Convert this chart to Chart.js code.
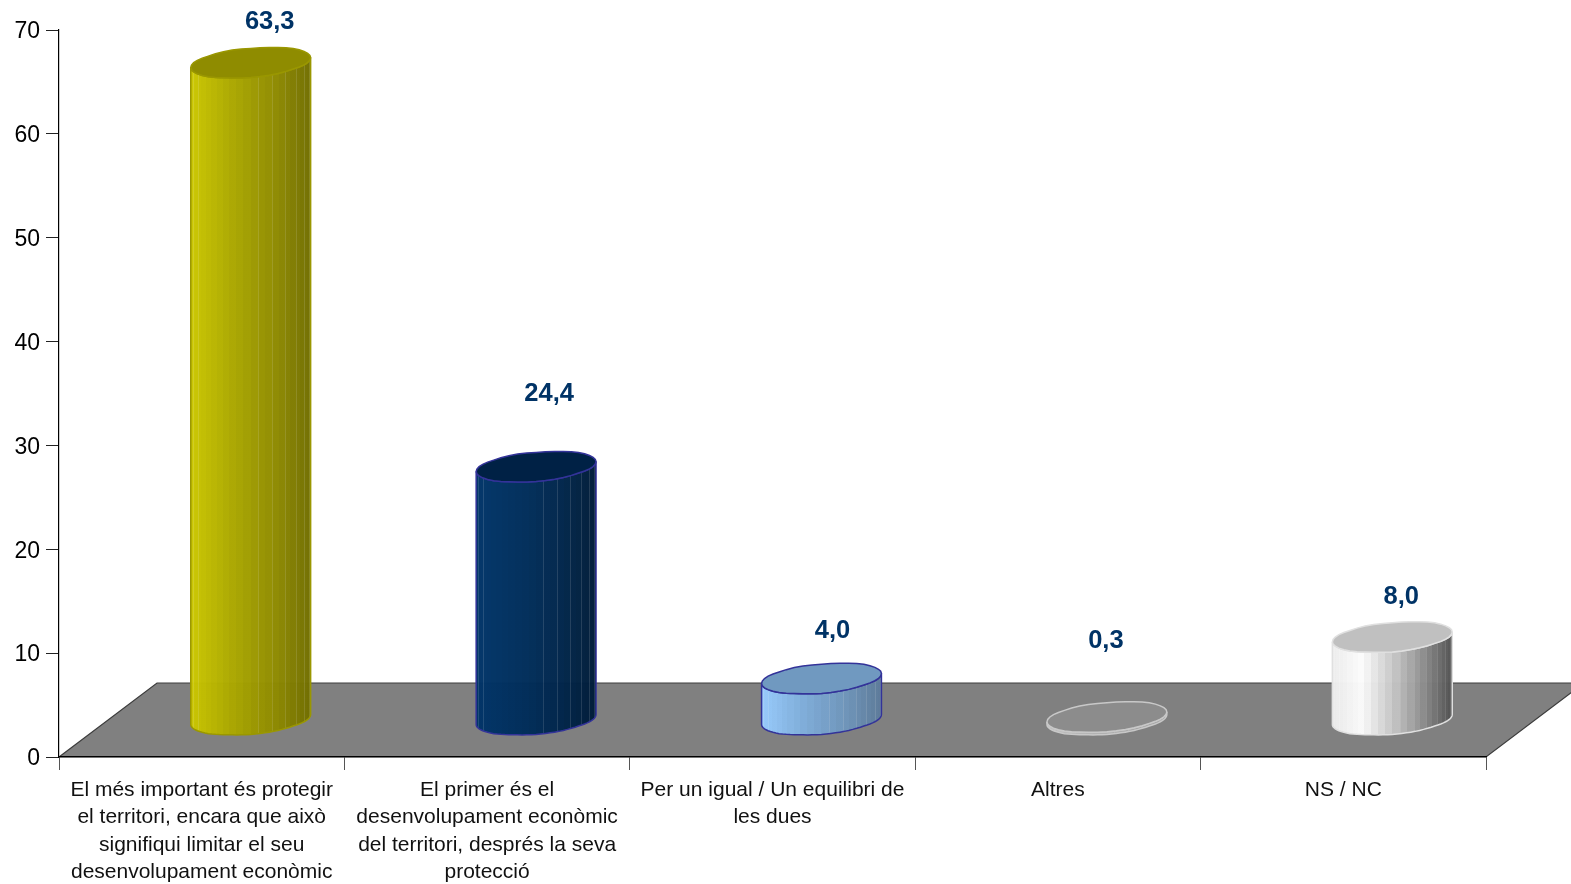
<!DOCTYPE html>
<html>
<head>
<meta charset="utf-8">
<title>Gràfic</title>
<script src="https://cdn.jsdelivr.net/npm/chart.js@4/dist/chart.umd.min.js"></script>
<style>
  html, body { margin: 0; padding: 0; background: #fff; }
  canvas { display: block; }
</style>
</head>
<body>
<canvas id="chart" width="1571" height="884"></canvas>
<script>
const categories = [
  ["El més important és protegir", "el territori, encara que això", "signifiqui limitar el seu", "desenvolupament econòmic"],
  ["El primer és el", "desenvolupament econòmic", "del territori, després la seva", "protecció"],
  ["Per un igual / Un equilibri de", "les dues"],
  ["Altres"],
  ["NS / NC"],
];
const values = [63.3, 24.4, 4.0, 0.3, 8.0];

// colors per bar: side shading left to right, top, outline
const sideShades = [
  ["#cbc700", "#b3b000", "#9f9b00", "#8a8600", "#716e00"],
  ["#003468", "#003060", "#002b56", "#002448", "#001c38"],
  ["#99ccff", "#86b6e4", "#78a3cd", "#6d92b6", "#5c7a99"],
  ["#c0c0c0", "#b8b8b8", "#b0b0b0", "#a8a8a8", "#a0a0a0"],
  ["#ececec", "#fbfbfb", "#c8c8c8", "#8f8f8f", "#505050"],
];
const topColors = ["#8f8c00", "#002145", "#7099c0", "#8c8c8c", "#c0c0c0"];
const outlineColors = ["#9a9700", "#333399", "#333399", "#c8c8c8", "#e0e0e0"];

// hand placed value labels in the original, offset from the cylinder top
const labelNudgeX = [19, 13, 11, -1, 9];
const labelNudgeY = [-41, -73, -47, -76, -40];

// 3d depth of the floor
const DEPTH_X = 98;
const DEPTH_Y = 74;
const FACETS = 26;
// the original ellipses are rough polygons, small y offsets around the rim
const rimWobble = [0, 0.2, -0.3, 0.3, 0.4, -0.2, 0.3, 0.1, 0, -0.2, 0.3, -0.3, 0.4, 0.2, -0.3, 0.1];

function mix(a, b, t) {
  const pa = parseInt(a.slice(1), 16), pb = parseInt(b.slice(1), 16);
  const ch = (s) => Math.round(((pa >> s) & 255) * (1 - t) + ((pb >> s) & 255) * t);
  return `rgb(${ch(16)},${ch(8)},${ch(0)})`;
}

function shadeAt(list, f) {
  const p = Math.min(f, 0.9999) * (list.length - 1);
  const i = Math.floor(p);
  return mix(list[i], list[i + 1], p - i);
}

function rimPoint(cx, cy, w, t) {
  const k = w / 60;
  const n = rimWobble.length;
  const pos = (((t / (Math.PI * 2)) % 1 + 1) % 1) * n;
  const i = Math.floor(pos);
  const wob = rimWobble[i] + (rimWobble[(i + 1) % n] - rimWobble[i]) * (pos - i);
  return [
    cx + w * Math.cos(t),
    cy - 5 * k * Math.cos(t) + 14.6 * k * Math.sin(t) + wob * k,
  ];
}

// part of the rim, going from one angle to another
function addRim(path, cx, cy, w, from, to) {
  const steps = 40;
  for (let s = 0; s <= steps; s++) {
    const p = rimPoint(cx, cy, w, from + (to - from) * s / steps);
    path.lineTo(p[0], p[1]);
  }
}

function drawCylinder(ctx, bar, index) {
  const w = bar.width / 2;
  const cx = bar.x + DEPTH_X / 2;
  const topY = bar.y - DEPTH_Y / 2;
  const baseY = bar.base - DEPTH_Y / 2;

  const body = new Path2D();
  addRim(body, cx, baseY, w, Math.PI, 0);
  addRim(body, cx, topY, w, 0, Math.PI);
  body.closePath();

  const lid = new Path2D();
  addRim(lid, cx, topY, w, 0, Math.PI * 2);
  lid.closePath();

  ctx.save();
  ctx.globalAlpha = 0.98;
  const grad = ctx.createLinearGradient(cx - w, 0, cx + w, 0);
  for (let i = 0; i < FACETS; i++) {
    const a = (1 - Math.cos(i * Math.PI / FACETS)) / 2;
    const b = (1 - Math.cos((i + 1) * Math.PI / FACETS)) / 2;
    const c = shadeAt(sideShades[index], (a + b) / 2);
    grad.addColorStop(a, c);
    grad.addColorStop(b, c);
  }
  ctx.fillStyle = grad;
  ctx.fill(body);

  ctx.save();
  ctx.clip(body);
  ctx.strokeStyle = "rgba(255,255,255,0.13)";
  ctx.lineWidth = 1;
  for (let i = 2; i < FACETS; i += 2) {
    if (i > 4 && i < 14) continue;
    const x = Math.round(cx - w * Math.cos(i * Math.PI / FACETS)) + 0.5;
    ctx.beginPath();
    ctx.moveTo(x, topY - 30);
    ctx.lineTo(x, baseY + 30);
    ctx.stroke();
  }
  ctx.restore();

  ctx.globalAlpha = 1;
  ctx.strokeStyle = outlineColors[index];
  ctx.lineWidth = 1.5;
  ctx.stroke(body);
  ctx.fillStyle = topColors[index];
  ctx.fill(lid);
  ctx.stroke(lid);
  ctx.restore();

  ctx.save();
  ctx.fillStyle = "#003366";
  ctx.font = "bold 25.5px 'Liberation Sans', Arial, sans-serif";
  ctx.textAlign = "center";
  ctx.textBaseline = "middle";
  ctx.fillText(values[index].toFixed(1).replace(".", ","), cx + labelNudgeX[index], topY + labelNudgeY[index]);
  ctx.restore();
}

const cylinderPlugin = {
  id: "cylinders",
  beforeDraw(chart) {
    // the floor goes under the axis lines
    const { ctx, chartArea: area } = chart;
    ctx.save();
    ctx.beginPath();
    ctx.moveTo(area.left, area.bottom);
    ctx.lineTo(area.left + DEPTH_X, area.bottom - DEPTH_Y);
    ctx.lineTo(area.right + DEPTH_X, area.bottom - DEPTH_Y);
    ctx.lineTo(area.right, area.bottom);
    ctx.closePath();
    ctx.fillStyle = "#808080";
    ctx.fill();
    ctx.strokeStyle = "#3c3c3c";
    ctx.lineWidth = 1.2;
    ctx.stroke();
    ctx.restore();
  },
  afterDatasetsDraw(chart) {
    const meta = chart.getDatasetMeta(0);
    meta.data.forEach((bar, i) => drawCylinder(chart.ctx, bar, i));
  },
};

new Chart(document.getElementById("chart").getContext("2d"), {
  type: "bar",
  plugins: [cylinderPlugin],
  data: {
    labels: categories,
    datasets: [{
      data: values,
      backgroundColor: "rgba(0,0,0,0)",
      barPercentage: 0.42,
      categoryPercentage: 1,
    }],
  },
  options: {
    responsive: false,
    animation: false,
    layout: { padding: { top: 30, right: 85, left: 0, bottom: 0 } },
    plugins: { legend: { display: false }, tooltip: { enabled: false } },
    scales: {
      x: {
        afterFit(scale) { scale.height = 127; },
        grid: {
          offset: true,
          drawOnChartArea: false,
          tickLength: 13,
          tickColor: "#555555",
        },
        border: { color: "#000000", width: 1.2 },
        ticks: {
          color: "#111111",
          maxRotation: 0,
          autoSkip: false,
          padding: 7,
          font: { family: "'Liberation Sans', Arial, sans-serif", size: 21, lineHeight: 1.29 },
        },
      },
      y: {
        min: 0,
        max: 70,
        afterFit(scale) { scale.width = 59; },
        afterUpdate(scale) {
          // tick numbers sit 1px under the tick marks in the original
          const compute = scale._computeLabelItems.bind(scale);
          scale._computeLabelItems = (area) => compute(area).map((item) => {
            item.options.translation[1] += 1;
            return item;
          });
        },
        grid: {
          drawOnChartArea: false,
          tickLength: 13,
          tickColor: "#222222",
        },
        border: { color: "#000000", width: 1.2 },
        ticks: {
          stepSize: 10,
          color: "#000000",
          padding: 6,
          font: { family: "'Liberation Sans', Arial, sans-serif", size: 23 },
        },
      },
    },
  },
});
</script>
</body>
</html>
